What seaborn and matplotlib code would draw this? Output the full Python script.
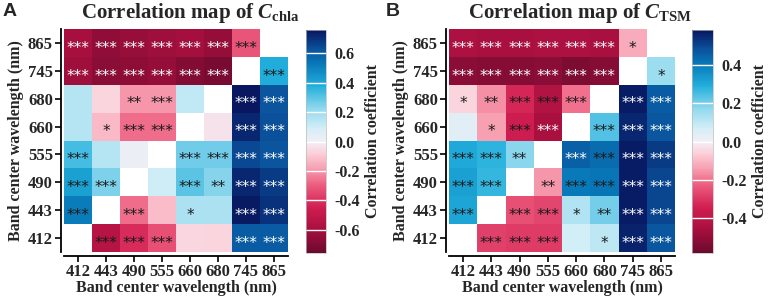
import numpy as np
import pandas as pd
import matplotlib
matplotlib.use("Agg")
import matplotlib.pyplot as plt
import matplotlib.transforms as mtransforms
import seaborn as sns
from matplotlib.colors import LinearSegmentedColormap

# ---------------- data ----------------
bands = ["412", "443", "490", "555", "660", "680", "745", "865"]
rows_top_to_bottom = ["865", "745", "680", "660", "555", "490", "443", "412"]
nan = np.nan

chla_r = [
    [-0.60, -0.66, -0.64, -0.62, -0.61, -0.65, -0.32, nan],
    [-0.62, -0.68, -0.67, -0.65, -0.70, -0.72, nan, 0.38],
    [0.15, -0.07, -0.20, -0.20, 0.13, nan, 0.76, 0.62],
    [0.15, -0.13, -0.27, -0.27, nan, -0.03, 0.72, 0.63],
    [0.33, 0.15, 0.02, nan, 0.27, 0.27, 0.65, 0.62],
    [0.42, 0.25, nan, 0.10, 0.30, 0.24, 0.72, 0.68],
    [0.52, nan, -0.27, -0.12, 0.17, 0.17, 0.75, 0.70],
    [nan, -0.55, -0.42, -0.33, -0.06, -0.07, 0.60, 0.60],
]
chla_sig = [
    ["***", "***", "***", "***", "***", "***", "***", ""],
    ["***", "***", "***", "***", "***", "***", "", "***"],
    ["", "", "**", "***", "", "", "***", "***"],
    ["", "*", "***", "***", "", "", "***", "***"],
    ["***", "", "", "", "***", "***", "***", "***"],
    ["***", "***", "", "", "***", "**", "***", "***"],
    ["***", "", "***", "", "*", "", "***", "***"],
    ["", "***", "***", "***", "", "", "***", "***"],
]

tsm_r = [
    [-0.44, -0.45, -0.45, -0.44, -0.44, -0.45, -0.12, nan],
    [-0.52, -0.53, -0.53, -0.52, -0.54, -0.53, nan, 0.15],
    [-0.05, -0.16, -0.33, -0.43, -0.20, nan, 0.57, 0.46],
    [0.04, -0.14, -0.35, -0.45, nan, 0.24, 0.55, 0.47],
    [0.30, 0.28, 0.18, nan, 0.45, 0.43, 0.57, 0.52],
    [0.32, 0.27, nan, -0.15, 0.40, 0.41, 0.57, 0.50],
    [0.31, nan, -0.25, -0.27, 0.12, 0.20, 0.57, 0.50],
    [nan, -0.28, -0.29, -0.29, 0.07, 0.10, 0.56, 0.47],
]
tsm_sig = [
    ["***", "***", "***", "***", "***", "***", "*", ""],
    ["***", "***", "***", "***", "***", "***", "", "*"],
    ["*", "**", "***", "***", "***", "", "***", "***"],
    ["", "*", "***", "***", "", "***", "***", "***"],
    ["***", "***", "**", "", "***", "***", "***", "***"],
    ["***", "***", "", "**", "***", "***", "***", "***"],
    ["***", "", "***", "***", "*", "**", "***", "***"],
    ["", "***", "***", "***", "", "*", "***", "***"],
]

chla_lim = 0.76
tsm_lim = 0.58
chla_ticks = [-0.6, -0.4, -0.2, 0.0, 0.2, 0.4, 0.6]
tsm_ticks = [-0.4, -0.2, 0.0, 0.2, 0.4]

# ---------------- style ----------------
sns.set_style("white")
plt.rcParams["font.family"] = ["Liberation Serif", "DejaVu Sans"]
plt.rcParams["font.weight"] = "bold"
plt.rcParams["axes.labelweight"] = "bold"
plt.rcParams["mathtext.fontset"] = "custom"
plt.rcParams["mathtext.rm"] = "Liberation Serif:bold"
plt.rcParams["mathtext.it"] = "Liberation Serif:italic:bold"
plt.rcParams["mathtext.bf"] = "Liberation Serif:bold"

cmap = LinearSegmentedColormap.from_list("corr", [
    (0.00, "#6b0a2e"),
    (0.10, "#a50f3e"),
    (0.20, "#cf1d50"),
    (0.30, "#ec5a7d"),
    (0.38, "#f7a0b2"),
    (0.45, "#fcd2db"),
    (0.50, "#f2eff5"),
    (0.56, "#d3eef7"),
    (0.65, "#8fd8ee"),
    (0.75, "#22afdc"),
    (0.85, "#0878b8"),
    (0.92, "#0a4f9a"),
    (1.00, "#08175f"),
])

W, H = 768, 299
fig = plt.figure(figsize=(W / 100, H / 100), dpi=100)


def box(x0, y0, x1, y1):
    return [x0 / W, 1 - y1 / H, (x1 - x0) / W, (y1 - y0) / H]


def panel(ax, cax, vals, sig, lim, ticks, thr):
    df = pd.DataFrame(vals, index=rows_top_to_bottom, columns=bands)
    ann = np.array(sig, dtype=object)
    sns.heatmap(df, ax=ax, cbar_ax=cax, cmap=cmap, vmin=-lim, vmax=lim,
                annot=ann, fmt="", linewidths=0,
                annot_kws={"fontsize": 11, "family": "DejaVu Sans",
                           "fontweight": "normal"},
                cbar_kws={"ticks": ticks})
    flat = df.values.flatten()
    valid = flat[~np.isnan(flat)]
    shift = mtransforms.ScaledTranslation(0, -3.8 / 72, fig.dpi_scale_trans)
    for t, v in zip(ax.texts, valid):
        t.set_color("white" if abs(v) >= thr else "#1a1a1a")
        t.set_transform(t.get_transform() + shift)
    ax.set_xticklabels(bands, rotation=0)
    ax.set_yticklabels(rows_top_to_bottom, rotation=0)
    for s in ["left", "bottom"]:
        ax.spines[s].set_visible(True)
        ax.spines[s].set_color("black")
        ax.spines[s].set_linewidth(1.3)
    ax.spines["left"].set_position(("outward", 2))
    ax.spines["bottom"].set_position(("outward", 3))
    ax.tick_params(axis="both", which="both", direction="out", length=4,
                   width=1.2, color="black", labelsize=12, pad=2,
                   left=True, bottom=True)
    for lab in ax.get_xticklabels() + ax.get_yticklabels():
        lab.set_fontweight("bold")
    ax.set_xlabel("Band center wavelength (nm)", fontsize=11.5,
                  fontweight="bold", labelpad=0)
    ax.set_ylabel("Band center wavelength (nm)", fontsize=11.5,
                  fontweight="bold", labelpad=3)
    cb = ax.collections[0].colorbar
    cb.outline.set_linewidth(0.5)
    cb.outline.set_edgecolor("#bbbbbb")
    for v in ticks:
        cax.axhline(v, color="white", lw=1.0)
    cax.tick_params(length=0, labelsize=11.5, pad=6)
    cax.set_yticklabels([f"{v:.1f}" for v in ticks])
    for lab in cax.get_yticklabels():
        lab.set_fontweight("bold")
    cb.set_label("Correlation coefficient", fontsize=11.5,
                 fontweight="bold", labelpad=4)


axA = fig.add_axes(box(64, 29, 288, 252))
caxA = fig.add_axes(box(305.5, 30, 326, 253))
axB = fig.add_axes(box(449, 29, 675, 252))
caxB = fig.add_axes(box(692, 30, 713, 253))

panel(axA, caxA, chla_r, chla_sig, chla_lim, chla_ticks, 0.58)
panel(axB, caxB, tsm_r, tsm_sig, tsm_lim, tsm_ticks, 0.44)

fig.text(190 / W, 1 - 13 / H, r"Correlation map of $\mathit{C}_{\mathrm{chla}}$",
         ha="center", va="center", fontsize=15, fontweight="bold")
fig.text(580 / W, 1 - 13 / H, r"Correlation map of $\mathit{C}_{\mathrm{TSM}}$",
         ha="center", va="center", fontsize=15, fontweight="bold")
fig.text(3 / W, 1 - 11 / H, "A", ha="left", va="center", fontsize=14,
         fontweight="bold", family="Liberation Sans")
fig.text(386 / W, 1 - 11 / H, "B", ha="left", va="center", fontsize=14,
         fontweight="bold", family="Liberation Sans")

fig.savefig("out.png", dpi=100, facecolor="white")
